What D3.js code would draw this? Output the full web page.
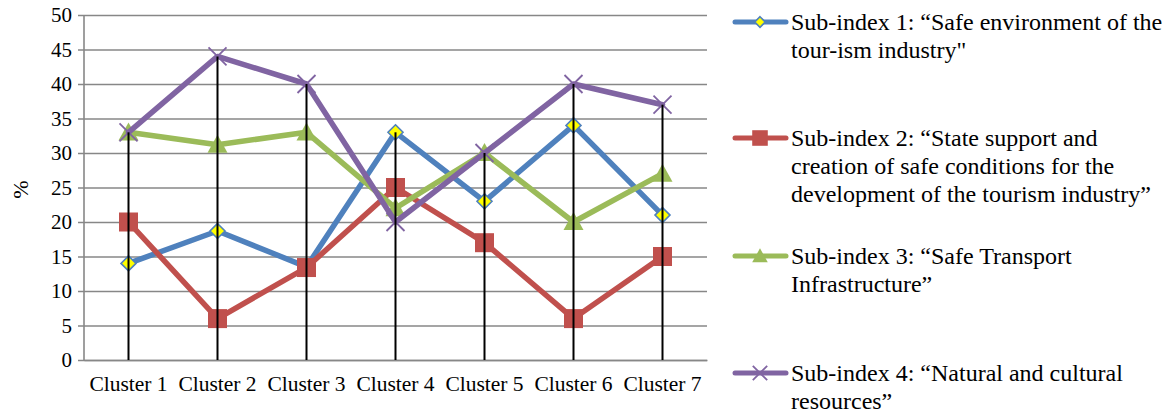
<!DOCTYPE html>
<html>
<head>
<meta charset="utf-8">
<script src="https://cdn.jsdelivr.net/npm/d3@7"></script>
<style>
  html, body { margin: 0; padding: 0; background: #fff; }
  svg { display: block; font-family: "Liberation Serif", "Times New Roman", serif; }
</style>
</head>
<body>
<svg id="chart" width="1169" height="414"></svg>
<script>
// Categories and series (percent)
const clusters = ["Cluster 1", "Cluster 2", "Cluster 3", "Cluster 4", "Cluster 5", "Cluster 6", "Cluster 7"];
const subIndex1 = [14, 18.7, 13.5, 33, 23, 34, 21];
const subIndex2 = [20, 6, 13.4, 25, 17, 6, 15];
const subIndex3 = [33, 31.2, 33, 22, 30, 20, 27];
const subIndex4 = [33, 44, 40, 20, 30, 40, 37];
const yTicks = [0, 5, 10, 15, 20, 25, 30, 35, 40, 45, 50];

const legendLabels = [
  ["Sub-index 1: \u201cSafe environment of the", "tour-ism industry\""],
  ["Sub-index 2: \u201cState support and", "creation of safe conditions for the", "development of the tourism industry\u201d"],
  ["Sub-index 3: \u201cSafe Transport", "Infrastructure\u201d"],
  ["Sub-index 4: \u201cNatural and cultural", "resources\u201d"]
];

const series = [
  { values: subIndex1, color: "#4F81BD", marker: "diamond" },
  { values: subIndex2, color: "#C0504D", marker: "square" },
  { values: subIndex3, color: "#9BBB59", marker: "triangle" },
  { values: subIndex4, color: "#8064A2", marker: "cross" }
];

const svg = d3.select("#chart");
const plot = { left: 84, right: 707, top: 15, bottom: 360 };

const x = d3.scaleBand().domain(clusters).range([plot.left, plot.right]);
const y = d3.scaleLinear().domain([0, 50]).range([plot.bottom, plot.top]);
const cx = c => x(c) + x.bandwidth() / 2;

// Horizontal gridlines with short ticks on the left
const yAxis = d3.axisLeft(y).tickValues(yTicks).tickSize(-(plot.right - plot.left)).tickSizeOuter(0).tickPadding(12);
const gy = svg.append("g").attr("transform", `translate(${plot.left},0)`).call(yAxis);
gy.select(".domain").remove();
gy.selectAll(".tick line").attr("x1", -6).attr("stroke", "#878787").attr("stroke-width", 1.6);
gy.selectAll(".tick text").attr("font-size", 21).attr("fill", "#000")
  .attr("font-family", "Liberation Serif, serif");

// Vertical value axis line
svg.append("line").attr("x1", plot.left).attr("x2", plot.left)
  .attr("y1", y(50)).attr("y2", y(0)).attr("stroke", "#878787").attr("stroke-width", 1.6);

// Category axis
const xAxis = d3.axisBottom(x).tickSize(0).tickPadding(16);
const gx = svg.append("g").attr("transform", `translate(0,${plot.bottom})`).call(xAxis);
gx.select(".domain").attr("stroke", "#878787").attr("stroke-width", 1.6);
gx.selectAll(".tick text").attr("font-size", 21.5).attr("fill", "#000")
  .attr("font-family", "Liberation Serif, serif");

// Axis title
svg.append("text").attr("transform", `translate(28,${(plot.top + plot.bottom) / 2 + 2}) rotate(-90)`)
  .attr("text-anchor", "middle").attr("font-size", 22).text("%");

// Marker drawing helper
function drawMarker(g, type, color, scale) {
  const k = scale || 1;
  if (type === "diamond") {
    const r = 7.5 * k;
    g.append("path").attr("d", `M0,${-r}L${r},0L0,${r}L${-r},0Z`)
      .attr("fill", "#FFFF00").attr("stroke", color).attr("stroke-width", 1.6);
  } else if (type === "square") {
    const s = 19 * k;
    g.append("rect").attr("x", -s / 2).attr("y", -s / 2).attr("width", s).attr("height", s)
      .attr("fill", color);
  } else if (type === "triangle") {
    const w = 20 * k, h = 18 * k;
    g.append("path").attr("d", `M0,${-h * 0.55}L${w / 2},${h * 0.45}L${-w / 2},${h * 0.45}Z`)
      .attr("fill", color);
  } else if (type === "cross") {
    const r = 9 * k;
    g.append("path").attr("d", `M${-r},${-r}L${r},${r}M${r},${-r}L${-r},${r}`)
      .attr("stroke", color).attr("stroke-width", 1.8).attr("fill", "none");
  }
}

// Series lines and markers
const line = d3.line().x((d, i) => cx(clusters[i])).y(d => y(d));
series.forEach(s => {
  const g = svg.append("g");
  g.append("path").datum(s.values).attr("d", line)
    .attr("fill", "none").attr("stroke", s.color).attr("stroke-width", 5.5)
    .attr("stroke-linejoin", "round").attr("stroke-linecap", "round");
  s.values.forEach((v, i) => {
    const m = g.append("g").attr("transform", `translate(${cx(clusters[i])},${y(v)})`);
    drawMarker(m, s.marker, s.color, 1);
  });
});

// Drop lines from the highest point of each cluster to the axis
svg.append("g").selectAll("line").data(clusters).join("line")
  .attr("x1", d => cx(d)).attr("x2", d => cx(d))
  .attr("y1", (d, i) => y(d3.max(series, s => s.values[i])))
  .attr("y2", y(0))
  .attr("stroke", "#000").attr("stroke-width", 2);

// Legend
const legendRows = [22, 138, 256, 373];
const legendMarkerScale = [0.7, 0.82, 0.78, 0.8];
const lg = svg.append("g");
series.forEach((s, i) => {
  const gy0 = legendRows[i];
  const item = lg.append("g").attr("transform", `translate(0,${gy0})`);
  item.append("line").attr("x1", 735).attr("x2", 786).attr("y1", 0).attr("y2", 0)
    .attr("stroke", s.color).attr("stroke-width", 5).attr("stroke-linecap", "round");
  const m = item.append("g").attr("transform", "translate(760,0)");
  drawMarker(m, s.marker, s.color, legendMarkerScale[i]);
  const t = item.append("text").attr("x", 791).attr("y", 0).attr("font-size", 24).attr("fill", "#000");
  legendLabels[i].forEach((ln, j) => {
    t.append("tspan").attr("x", 791).attr("dy", j === 0 ? "0.33em" : 27.8).text(ln);
  });
});
</script>
</body>
</html>
